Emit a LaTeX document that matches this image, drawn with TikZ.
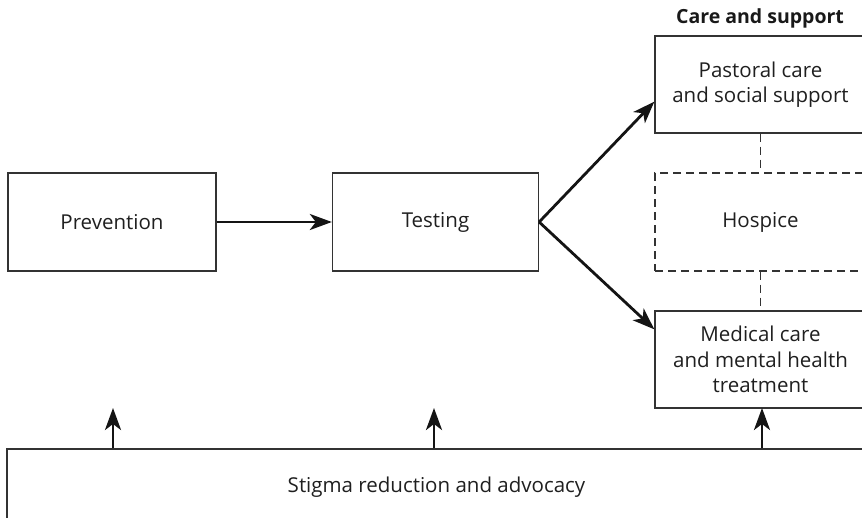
\documentclass[tikz,border=0pt]{standalone}
\usepackage{fontspec}
\setmainfont{Open Sans}
\usetikzlibrary{arrows.meta,calc}
\begin{document}
\begin{tikzpicture}[x=1pt,y=-1pt,
  box/.style={draw=black!80,line width=1.3pt,minimum width=#1,inner sep=0pt,align=center,font=\fontsize{20.5}{25.5}\selectfont,text=black!88},
  dbox/.style={box=#1,dashed,dash pattern=on 8pt off 5pt},
  arr/.style={-{Stealth[length=22pt,width=16pt,inset=6pt]},line width=2.8pt,draw=black!92},
  dline/.style={draw=black!80,line width=1.3pt,dash pattern=on 8pt off 5pt}]
\useasboundingbox (0,0) rectangle (862,517);
\node[box=208pt,minimum height=98pt] (prev) at (112,222) {Prevention};
\node[box=206pt,minimum height=98pt] (test) at (435.5,222) {Testing};
\node[box=211pt,minimum height=97pt] (past) at (760.5,84.5) {Pastoral care\\and social support};
\node[dbox=211pt,minimum height=98pt] (hosp) at (760.5,222) {Hospice};
\node[box=211pt,minimum height=97pt] (med) at (760.5,359.5) {Medical care\\and mental health\\treatment};
\node[box=859pt,minimum height=76pt] (stig) at (436.5,487) {Stigma reduction and advocacy};
\node[font=\bfseries\fontsize{19.5}{23}\selectfont,text=black!90] (title) at (760,18) {Care and support};
\draw[arr] (prev.east) -- (test.west);
\draw[arr] (test.east) -- ([yshift=32pt]past.south west);
\draw[arr] (test.east) -- ([yshift=-19pt]med.north west);
\draw[dline] (past.south) -- (hosp.north);
\draw[dline] (hosp.south) -- (med.north);
\coordinate (u1) at (113,408);
\coordinate (u2) at (434,408);
\coordinate (u3) at (762,408);
\draw[arr] (u1 |- stig.north) -- (u1);
\draw[arr] (u2 |- stig.north) -- (u2);
\draw[arr] (u3 |- stig.north) -- (u3);
\end{tikzpicture}
\end{document}
